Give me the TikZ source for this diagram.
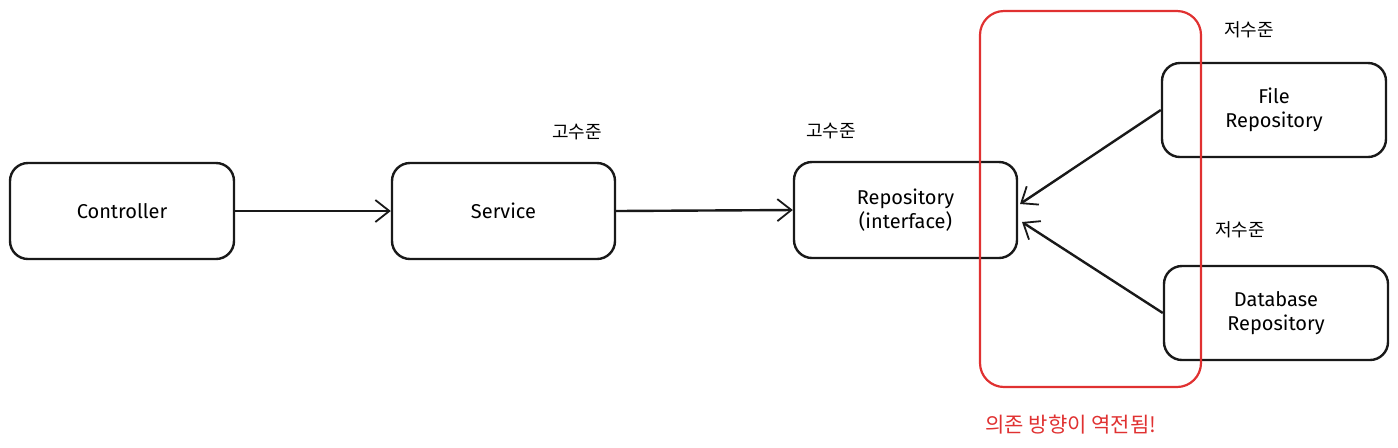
\documentclass[tikz,border=0pt]{standalone}
\usepackage{fontspec}
\setmainfont{Fira Sans}
\newfontfamily\kr{Noto Sans CJK KR}
\usetikzlibrary{arrows.meta}
\definecolor{sketchred}{HTML}{E03131}
\tikzset{
  box/.style={draw=black!90, line width=1.2pt, rounded corners=9pt, align=center, font=\fontsize{10}{12}\selectfont, inner sep=0pt},
  conn/.style={draw=black!90, line width=1.2pt, -{Straight Barb[length=7pt,width=11pt,line width=0.9pt]}},
  lvl/.style={font=\kr\fontsize{9}{10}\selectfont, inner sep=0pt},
}
\begin{document}
\begin{tikzpicture}[x=0.5pt,y=-0.5pt]
\useasboundingbox (0,0) rectangle (1398,447);
\node[box, minimum width=112pt, minimum height=48pt] (ctrl) at (122,211) {Controller};
\node[box, minimum width=111.5pt, minimum height=48pt] (svc) at (503.5,211) {Service};
\node[box, minimum width=111.5pt, minimum height=48pt] (repo) at (905.5,210) {Repository\\(interface)};
\node[box, minimum width=112pt, minimum height=47pt] (file) at (1274,110) {File\\Repository};
\node[box, minimum width=112pt, minimum height=47pt] (db) at (1276,313) {Database\\Repository};
\node[draw=sketchred, line width=1.1pt, rounded corners=12pt, minimum width=110.5pt, minimum height=188pt, inner sep=0pt] (grp) at (1090.5,199) {};
\node[lvl] (h1) at (577,132) {고수준};
\node[lvl] (h2) at (831,131) {고수준};
\node[lvl] (l1) at (1249,30) {저수준};
\node[lvl] (l2) at (1240,230) {저수준};
\node[lvl, text=sketchred, font=\kr\fontsize{10.5}{12}\selectfont] (note) at (1071,425) {의존 방향이 역전됨!};
\coordinate (r1) at (1020,204);
\coordinate (r2) at (1022,222);
\draw[conn] (ctrl.east) -- (svc.west);
\draw[conn] (svc.east) -- (repo.west);
\draw[conn] (file.west) -- (r1);
\draw[conn] (db.west) -- (r2);
\end{tikzpicture}
\end{document}
